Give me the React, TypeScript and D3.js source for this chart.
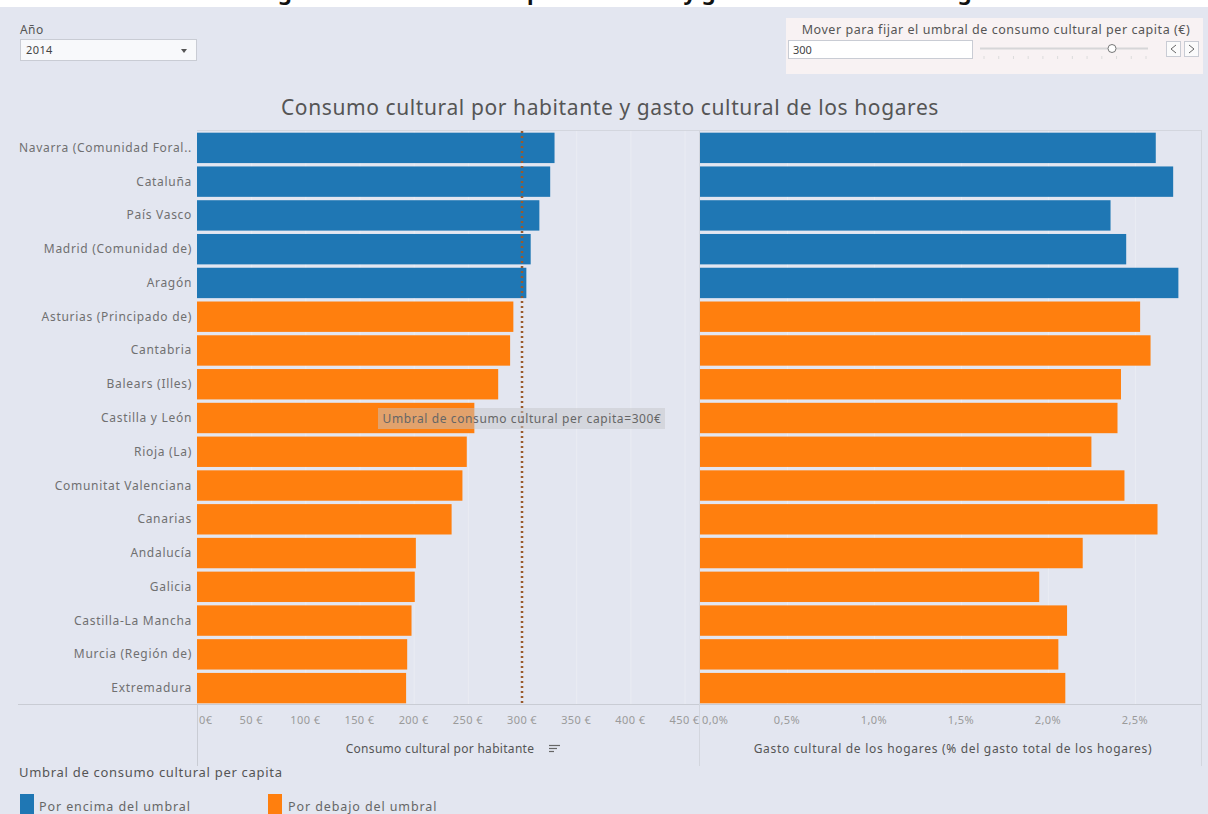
import React from "react";
import * as d3 from "d3";

const regions = [
  "Navarra (Comunidad Foral de)",
  "Cataluña",
  "País Vasco",
  "Madrid (Comunidad de)",
  "Aragón",
  "Asturias (Principado de)",
  "Cantabria",
  "Balears (Illes)",
  "Castilla y León",
  "Rioja (La)",
  "Comunitat Valenciana",
  "Canarias",
  "Andalucía",
  "Galicia",
  "Castilla-La Mancha",
  "Murcia (Región de)",
  "Extremadura",
];
const consumo = [330, 326, 316, 308, 304, 292, 289, 278, 256, 249, 245, 235, 202, 201, 198, 194, 193];
const gasto = [2.62, 2.72, 2.36, 2.45, 2.75, 2.53, 2.59, 2.42, 2.4, 2.25, 2.44, 2.63, 2.2, 1.95, 2.11, 2.06, 2.1];
const threshold = 300;
const consumoTicks = [0, 50, 100, 150, 200, 250, 300, 350, 400, 450];
const gastoTicks = [0, 0.5, 1, 1.5, 2, 2.5];
const legendItems = ["Por encima del umbral", "Por debajo del umbral"];
const yearLabel = "2014";

const BLUE = "#1f77b4";
const ORANGE = "#ff7f0e";
const BG = "#e3e6f0";
const FONT = "'Noto Sans', sans-serif";

const esLocale = d3.formatLocale({ decimal: ",", thousands: ".", grouping: [3], currency: ["", " €"] });
const fmtPct = esLocale.format(".1f");

function truncate(s: string) {
  return s.length > 26 ? s.slice(0, 24) + ".." : s;
}

export default function App() {
  const W = 1208, H = 814;
  const top = 131, bottom = 705;
  const y = d3.scaleBand<string>().domain(regions).range([top, bottom]).paddingInner(0.1).paddingOuter(0.05);
  const xL = d3.scaleLinear().domain([0, 461.5]).range([197, 697]);
  const xR = d3.scaleLinear().domain([0, 2.88]).range([700, 1201]);

  const sliderTicks = d3.range(0, 12);
  const sx = d3.scaleLinear().domain([0, 11]).range([984, 1146]);

  return (
    <svg width={W} height={H} style={{ position: "absolute", left: 0, top: 0, fontFamily: FONT }}>
      <rect x={0} y={0} width={W} height={H} fill={BG} />
      <rect x={0} y={0} width={W} height={7} fill="#ffffff" />
      <clipPath id="topclip"><rect x={0} y={0} width={W} height={7} /></clipPath>
      <text x={610} y={0} textAnchor="middle" fontSize={22} fontWeight={700} fill="#111" clipPath="url(#topclip)">
        Ranking de consumo cultural por habitante y gasto cultural de los hogares
      </text>

      {/* Año filter */}
      <text x={20} y={34} fontSize={12} fill="#555" letterSpacing={0.4}>Año</text>
      <rect x={20.5} y={39.5} width={176} height={21} fill="#f8f9fb" stroke="#c9ccd4" />
      <text x={26} y={54} fontSize={11} fill="#444" letterSpacing={0.4}>{yearLabel}</text>
      <path d="M181,49 L187,49 L184,53 Z" fill="#555" />

      {/* Slider panel */}
      <rect x={786} y={18} width={417} height={56} fill="#f8f2f3" />
      <text x={996} y={34} textAnchor="middle" fontSize={12.5} fill="#555" letterSpacing={0.55}>
        Mover para fijar el umbral de consumo cultural per capita (€)
      </text>
      <rect x={788.5} y={40.5} width={184} height={18} fill="#ffffff" stroke="#c9ccd4" />
      <text x={793} y={54} fontSize={11} fill="#444">{threshold}</text>
      <line x1={980} x2={1148} y1={48.5} y2={48.5} stroke="#d6d6d8" strokeWidth={2} />
      {sliderTicks.map((t) => (
        <line key={t} x1={sx(t)} x2={sx(t)} y1={56} y2={59} stroke="#dcdcdc" />
      ))}
      <circle cx={1112} cy={48.5} r={4} fill="#ffffff" stroke="#777" />
      <rect x={1166.5} y={41.5} width={14} height={15} fill="#fbfbfb" stroke="#c9ccd4" />
      <rect x={1184.5} y={41.5} width={14} height={15} fill="#fbfbfb" stroke="#c9ccd4" />
      <path d="M1176,45 L1171,49 L1176,53" fill="none" stroke="#666" />
      <path d="M1189,45 L1194,49 L1189,53" fill="none" stroke="#666" />

      {/* Chart title */}
      <text x={610} y={115} textAnchor="middle" fontSize={21} fill="#555" letterSpacing={0.6}>
        Consumo cultural por habitante y gasto cultural de los hogares
      </text>

      {/* panel borders */}
      <line x1={197} x2={1201} y1={130.5} y2={130.5} stroke="#d3d6de" />
      <line x1={18} x2={1201} y1={704.5} y2={704.5} stroke="#c9ccd4" />
      <line x1={197.5} x2={197.5} y1={704} y2={766} stroke="#c9ccd4" />
      <line x1={699.5} x2={699.5} y1={130} y2={766} stroke="#d3d6de" />
      <line x1={1201.5} x2={1201.5} y1={130} y2={766} stroke="#d3d6de" />

      {/* gridlines */}
      {consumoTicks.slice(1).map((t) => (
        <line key={"gl" + t} x1={xL(t) + 0.5} x2={xL(t) + 0.5} y1={131} y2={704} stroke="#eaecf3" />
      ))}
      {gastoTicks.slice(1).map((t) => (
        <line key={"gr" + t} x1={xR(t) + 0.5} x2={xR(t) + 0.5} y1={131} y2={704} stroke="#eaecf3" />
      ))}

      {/* row labels */}
      {regions.map((r) => (
        <text key={"l" + r} x={192} y={(y(r) as number) + y.bandwidth() / 2 + 4} textAnchor="end" fontSize={12} fill="#707070" letterSpacing={0.7}>
          {truncate(r)}
        </text>
      ))}

      {/* bars */}
      {regions.map((r, i) => {
        const c = consumo[i] >= threshold ? BLUE : ORANGE;
        return (
          <g key={"b" + r}>
            <rect x={xL(0)} y={y(r)} width={xL(consumo[i]) - xL(0)} height={y.bandwidth()} fill={c} />
            <rect x={xR(0)} y={y(r)} width={xR(gasto[i]) - xR(0)} height={y.bandwidth()} fill={c} />
          </g>
        );
      })}

      {/* threshold line */}
      <line x1={xL(threshold)} x2={xL(threshold)} y1={131} y2={706} stroke="#9a5a2c" strokeWidth={2.5} strokeDasharray="2,3" />
      <rect x={378} y={408} width={287} height={21} fill="rgb(198,198,202)" fillOpacity={0.5} />
      <text x={xL(threshold)} y={422.5} textAnchor="middle" fontSize={12} fill="#666" letterSpacing={0.6}>
        Umbral de consumo cultural per capita={threshold}€
      </text>

      {/* axis ticks */}
      {consumoTicks.map((t, i) => (
        <text key={"tl" + t} x={i === 0 ? 199 : xL(t)} y={724} textAnchor={i === 0 ? "start" : "middle"} fontSize={11} fill="#9a9a9a" letterSpacing={0.4}>
          {i === 0 ? "0€" : `${t} €`}
        </text>
      ))}
      {gastoTicks.map((t, i) => (
        <text key={"tr" + t} x={i === 0 ? 702 : xR(t)} y={724} textAnchor={i === 0 ? "start" : "middle"} fontSize={11} fill="#9a9a9a" letterSpacing={0.4}>
          {fmtPct(t)}%
        </text>
      ))}

      {/* axis titles */}
      <text x={440} y={753} textAnchor="middle" fontSize={12} fill="#555" letterSpacing={0.3}>Consumo cultural por habitante</text>
      <g stroke="#666" strokeWidth={1.2}>
        <line x1={549} x2={560} y1={745.5} y2={745.5} />
        <line x1={549} x2={557} y1={748.5} y2={748.5} />
        <line x1={549} x2={554} y1={751.5} y2={751.5} />
      </g>
      <text x={953} y={753} textAnchor="middle" fontSize={12} fill="#555" letterSpacing={0.7}>
        Gasto cultural de los hogares (% del gasto total de los hogares)
      </text>

      {/* legend */}
      <text x={19} y={777} fontSize={13} fill="#555" letterSpacing={0.7}>Umbral de consumo cultural per capita</text>
      <rect x={20} y={794} width={14} height={22} fill={BLUE} />
      <text x={39} y={811} fontSize={12.5} fill="#666" letterSpacing={0.9}>{legendItems[0]}</text>
      <rect x={268} y={794} width={14} height={22} fill={ORANGE} />
      <text x={288} y={811} fontSize={12.5} fill="#666" letterSpacing={0.9}>{legendItems[1]}</text>
    </svg>
  );
}
